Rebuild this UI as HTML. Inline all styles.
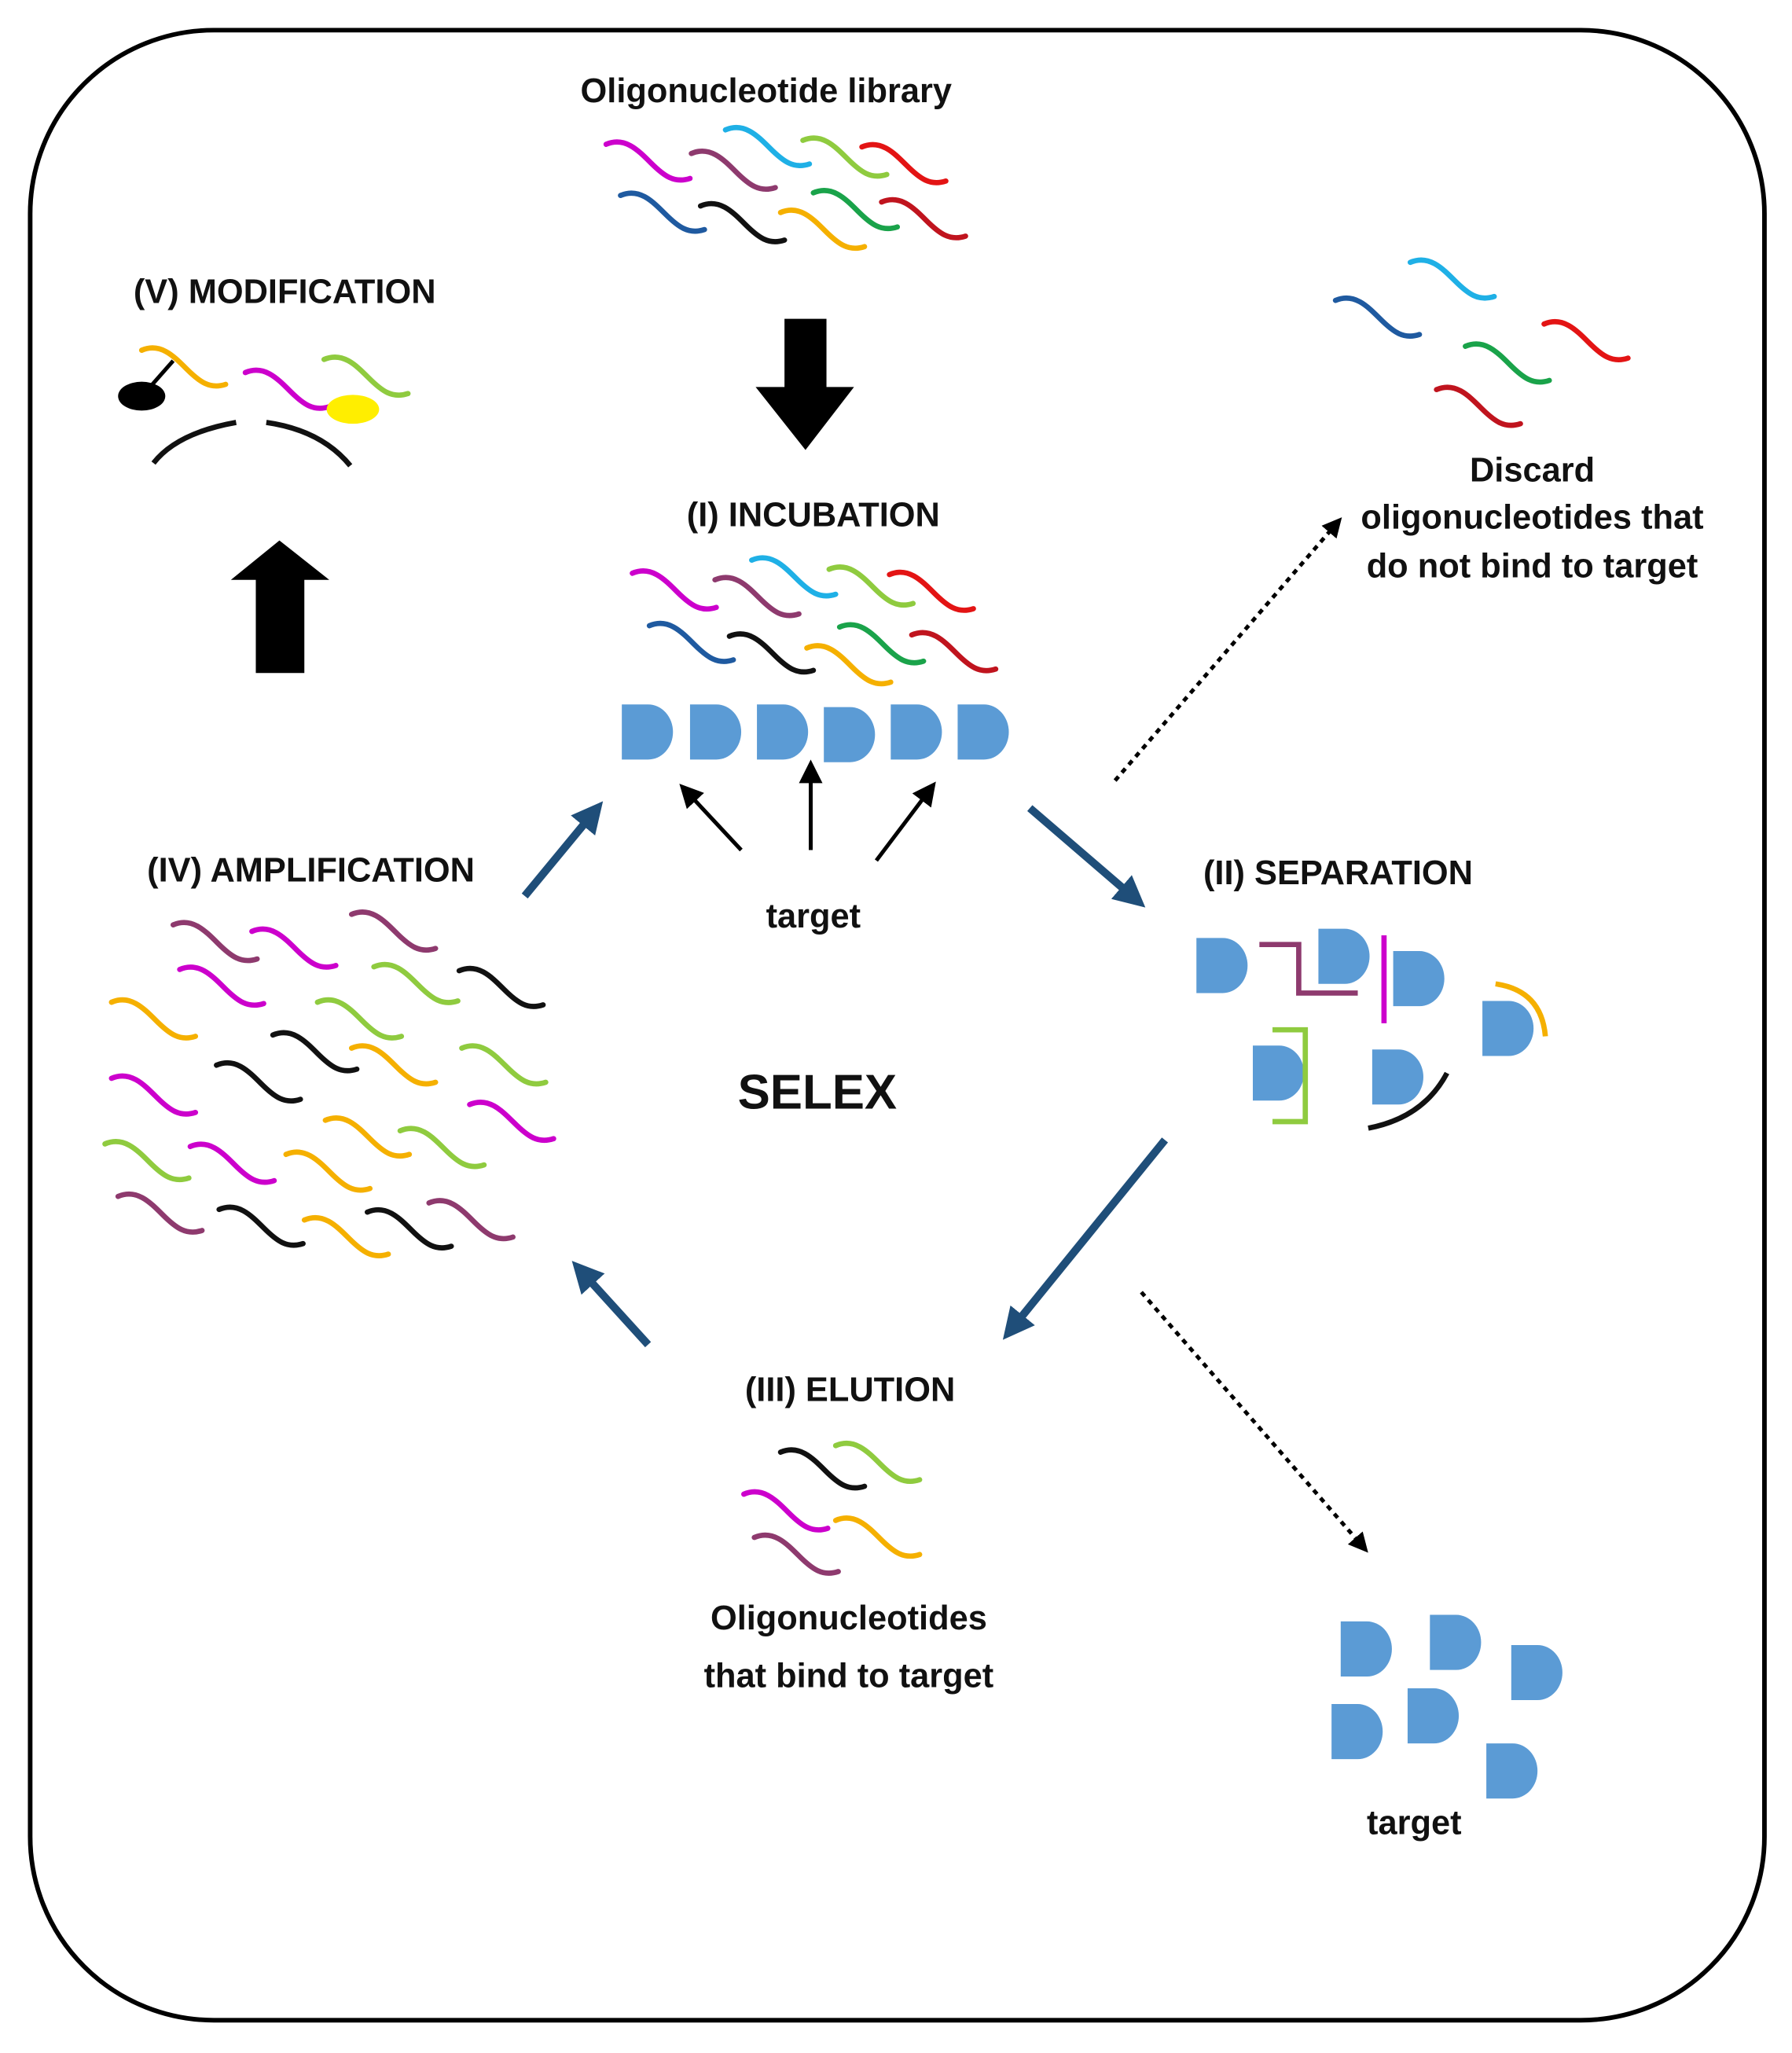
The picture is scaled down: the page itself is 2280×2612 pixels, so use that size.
<!DOCTYPE html>
<html><head><meta charset="utf-8"><style>
html,body{margin:0;padding:0;background:#fff}
svg{display:block}
text{font-family:"Liberation Sans",sans-serif;font-weight:bold;fill:#111}
</style></head><body>
<svg width="2280" height="2612" viewBox="0 0 1366 1565" preserveAspectRatio="none" xmlns="http://www.w3.org/2000/svg">
<defs>
<path id="w" d="M0 0 C14 -6 24 4 34 14 S 52 30 64 26" fill="none" stroke-width="4" stroke-linecap="round"/>
<path id="d" d="M0 0 H20 A19 21 0 0 1 20 42 H0 Z" fill="#5b9bd5"/>
<marker id="ab" markerWidth="4" markerHeight="4" refX="2" refY="2" orient="auto" markerUnits="strokeWidth"><path d="M0 0 L4 2 L0 4 Z" fill="#1f4e79"/></marker>
<marker id="ak" markerWidth="6" markerHeight="6" refX="3" refY="3" orient="auto" markerUnits="strokeWidth"><path d="M0 0 L6 3 L0 6 Z" fill="#000"/></marker>
<marker id="ad" markerWidth="5" markerHeight="5" refX="2.5" refY="2.5" orient="auto" markerUnits="strokeWidth"><path d="M0 0 L5 2.5 L0 5 Z" fill="#000"/></marker>
</defs>
<rect x="23" y="23" width="1322" height="1517" rx="140" ry="140" fill="none" stroke="#000" stroke-width="3.5"/>

<text x="584" y="78" font-size="26" text-anchor="middle">Oligonucleotide library</text>
<g>
<use href="#w" x="462" y="110" stroke="#cc00cc"/><use href="#w" x="527" y="117" stroke="#8e3a6e"/><use href="#w" x="553" y="99" stroke="#1fb0e6"/><use href="#w" x="612" y="107" stroke="#8fcb3f"/><use href="#w" x="657" y="112" stroke="#e31414"/>
<use href="#w" x="473" y="149" stroke="#1f5aa0"/><use href="#w" x="534" y="157" stroke="#111"/><use href="#w" x="595" y="162" stroke="#f5b000"/><use href="#w" x="620" y="147" stroke="#1aa34a"/><use href="#w" x="672" y="154" stroke="#c0141e"/>
</g>
<path d="M598 243 H630 V295 H651 L614 343 L576 295 H598 Z" fill="#000"/>

<text x="620" y="401" font-size="26" text-anchor="middle">(I) INCUBATION</text>
<g>
<use href="#w" x="482" y="437" stroke="#cc00cc"/><use href="#w" x="545" y="442" stroke="#8e3a6e"/><use href="#w" x="573" y="427" stroke="#1fb0e6"/><use href="#w" x="632" y="434" stroke="#8fcb3f"/><use href="#w" x="678" y="438" stroke="#e31414"/>
<use href="#w" x="495" y="477" stroke="#1f5aa0"/><use href="#w" x="556" y="485" stroke="#111"/><use href="#w" x="615" y="494" stroke="#f5b000"/><use href="#w" x="640" y="478" stroke="#1aa34a"/><use href="#w" x="695" y="484" stroke="#c0141e"/>
</g>
<use href="#d" x="474" y="537"/><use href="#d" x="526" y="537"/><use href="#d" x="577" y="537"/><use href="#d" x="628" y="539"/><use href="#d" x="679" y="537"/><use href="#d" x="730" y="537"/>
<g stroke="#000" stroke-width="3" marker-end="url(#ak)">
<line x1="565" y1="648" x2="524" y2="604"/><line x1="618" y1="648" x2="618" y2="588"/><line x1="668" y1="656" x2="708" y2="603"/>
</g>
<text x="620" y="707" font-size="26" text-anchor="middle">target</text>

<g stroke="#1f4e79" stroke-width="6" marker-end="url(#ab)">
<line x1="400" y1="683" x2="452" y2="620"/>
<line x1="785" y1="616" x2="864" y2="684"/>
<line x1="888" y1="869" x2="772" y2="1012"/>
<line x1="494" y1="1025" x2="444" y2="970"/>
</g>
<g stroke="#000" stroke-width="3" stroke-dasharray="4 4" marker-end="url(#ad)">
<line x1="850" y1="595" x2="1018" y2="400"/>
<line x1="870" y1="985" x2="1038" y2="1178"/>
</g>

<g>
<use href="#w" x="1018" y="229" stroke="#1f5aa0"/><use href="#w" x="1075" y="200" stroke="#1fb0e6"/><use href="#w" x="1177" y="247" stroke="#e31414"/><use href="#w" x="1117" y="264" stroke="#1aa34a"/><use href="#w" x="1095" y="297" stroke="#c0141e"/>
</g>
<text font-size="26" text-anchor="middle"><tspan x="1168" y="367">Discard</tspan><tspan x="1168" y="403">oligonucleotides that</tspan><tspan x="1168" y="440">do not bind to target</tspan></text>

<text x="1020" y="674" font-size="26" text-anchor="middle">(II) SEPARATION</text>
<use href="#d" x="912" y="715"/><use href="#d" x="1005" y="708"/><use href="#d" x="1062" y="725"/><use href="#d" x="1130" y="763"/><use href="#d" x="955" y="797"/><use href="#d" x="1046" y="800"/>
<polyline points="960,720 990,720 990,757 1035,757" fill="none" stroke="#8e3a6e" stroke-width="4"/>
<line x1="1055" y1="713" x2="1055" y2="780" stroke="#cc00cc" stroke-width="4"/>
<path d="M1140 750 Q1175 755 1178 790" fill="none" stroke="#f5b000" stroke-width="4"/>
<polyline points="970,785 995,785 995,855 970,855" fill="none" stroke="#8fcb3f" stroke-width="4"/>
<path d="M1043 860 Q1085 852 1103 818" fill="none" stroke="#111" stroke-width="4"/>

<text x="623" y="845" font-size="37" text-anchor="middle">SELEX</text>

<text x="648" y="1068" font-size="26" text-anchor="middle">(III) ELUTION</text>
<g>
<use href="#w" x="595" y="1107" stroke="#111"/><use href="#w" x="637" y="1102" stroke="#8fcb3f"/><use href="#w" x="567" y="1139" stroke="#cc00cc"/><use href="#w" x="637" y="1159" stroke="#f5b000"/><use href="#w" x="575" y="1172" stroke="#8e3a6e"/>
</g>
<text font-size="26" text-anchor="middle"><tspan x="647" y="1242">Oligonucleotides</tspan><tspan x="647" y="1286">that bind to target</tspan></text>

<use href="#d" x="1022" y="1236"/><use href="#d" x="1090" y="1231"/><use href="#d" x="1152" y="1254"/><use href="#d" x="1015" y="1299"/><use href="#d" x="1073" y="1287"/><use href="#d" x="1133" y="1329"/>
<text x="1078" y="1398" font-size="26" text-anchor="middle">target</text>

<text x="237" y="672" font-size="26" text-anchor="middle">(IV) AMPLIFICATION</text>
<g>
<use href="#w" x="132" y="705" stroke="#8e3a6e"/><use href="#w" x="192" y="710" stroke="#cc00cc"/><use href="#w" x="268" y="697" stroke="#8e3a6e"/>
<use href="#w" x="137" y="739" stroke="#cc00cc"/><use href="#w" x="285" y="737" stroke="#8fcb3f"/><use href="#w" x="350" y="740" stroke="#111"/>
<use href="#w" x="85" y="764" stroke="#f5b000"/><use href="#w" x="242" y="764" stroke="#8fcb3f"/>
<use href="#w" x="208" y="789" stroke="#111"/><use href="#w" x="268" y="799" stroke="#f5b000"/><use href="#w" x="352" y="799" stroke="#8fcb3f"/>
<use href="#w" x="85" y="822" stroke="#cc00cc"/><use href="#w" x="165" y="812" stroke="#111"/>
<use href="#w" x="358" y="842" stroke="#cc00cc"/><use href="#w" x="248" y="854" stroke="#f5b000"/><use href="#w" x="305" y="862" stroke="#8fcb3f"/>
<use href="#w" x="80" y="872" stroke="#8fcb3f"/><use href="#w" x="145" y="874" stroke="#cc00cc"/><use href="#w" x="218" y="880" stroke="#f5b000"/>
<use href="#w" x="90" y="912" stroke="#8e3a6e"/><use href="#w" x="167" y="922" stroke="#111"/><use href="#w" x="232" y="930" stroke="#f5b000"/><use href="#w" x="280" y="924" stroke="#111"/><use href="#w" x="327" y="917" stroke="#8e3a6e"/>
</g>

<path d="M195 513 H232 V442 H251 L213 412 L176 442 H195 Z" fill="#000"/>

<text x="217" y="231" font-size="26" text-anchor="middle">(V) MODIFICATION</text>
<use href="#w" x="108" y="267" stroke="#f5b000"/>
<line x1="110" y1="300" x2="132" y2="275" stroke="#000" stroke-width="3"/>
<ellipse cx="108" cy="302" rx="18" ry="11" fill="#000"/>
<use href="#w" x="187" y="284" stroke="#cc00cc"/>
<use href="#w" x="247" y="274" stroke="#8fcb3f"/>
<ellipse cx="269" cy="312" rx="20" ry="11" fill="#ffee00"/>
<path d="M117 353 Q135 330 180 322" fill="none" stroke="#111" stroke-width="4"/>
<path d="M203 322 Q245 328 267 355" fill="none" stroke="#111" stroke-width="4"/>
</svg>
</body></html>
